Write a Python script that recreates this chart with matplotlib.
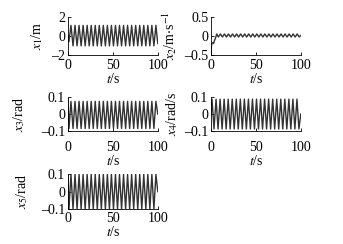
import matplotlib
matplotlib.use('Agg')
import matplotlib.pyplot as plt

# extrema (peak / trough) times, shared by the oscillating states
t_ext = [0, 1.2, 3.4, 5.7, 7.9, 10.2, 12.4, 14.7, 16.9, 19.2, 21.4, 23.7, 25.9, 28.2, 30.4,
         32.7, 34.9, 37.2, 39.4, 41.7, 43.9, 46.2, 48.4, 50.7, 52.9, 55.2, 57.4, 59.7, 61.9,
         64.2, 66.4, 68.7, 70.9, 73.2, 75.4, 77.7, 79.9, 82.2, 84.4, 86.7, 88.9, 91.2, 93.4,
         95.7, 97.9, 100]

x1 = [0, -0.6, 1.1, -1.05, 1.1, -1.05, 1.1, -1.05, 1.1, -1.05, 1.1, -1.05, 1.1, -1.05, 1.1,
      -1.05, 1.1, -1.05, 1.1, -1.05, 1.1, -1.05, 1.1, -1.05, 1.1, -1.05, 1.1, -1.05, 1.1,
      -1.05, 1.1, -1.05, 1.1, -1.05, 1.1, -1.05, 1.1, -1.05, 1.1, -1.05, 1.1, -1.05, 1.1,
      -1.05, 1.1, -0.8]

x3 = [0.09, -0.085, 0.075, -0.085, 0.075, -0.085, 0.075, -0.085, 0.075, -0.085, 0.075, -0.085, 0.075,
      -0.085, 0.075, -0.085, 0.075, -0.085, 0.075, -0.085, 0.075, -0.085, 0.075, -0.085, 0.075, -0.085,
      0.075, -0.085, 0.075, -0.085, 0.075, -0.085, 0.075, -0.085, 0.075, -0.085, 0.075, -0.085, 0.075,
      -0.085, 0.075, -0.085, 0.075, -0.085, 0.075, 0.0]

x4 = [0.0, 0.088, -0.088, 0.088, -0.088, 0.088, -0.088, 0.088, -0.088, 0.088, -0.088, 0.088, -0.088,
      0.088, -0.088, 0.088, -0.088, 0.088, -0.088, 0.088, -0.088, 0.088, -0.088, 0.088, -0.088, 0.088,
      -0.088, 0.088, -0.088, 0.088, -0.088, 0.088, -0.088, 0.088, -0.088, 0.088, -0.088, 0.088, -0.088,
      0.088, -0.088, 0.088, -0.088, 0.088, -0.088, 0.0]

x5 = [0.098, -0.098, 0.098, -0.098, 0.098, -0.098, 0.098, -0.098, 0.098, -0.098, 0.098, -0.098, 0.098,
      -0.098, 0.098, -0.098, 0.098, -0.098, 0.098, -0.098, 0.098, -0.098, 0.098, -0.098, 0.098, -0.098,
      0.098, -0.098, 0.098, -0.098, 0.098, -0.098, 0.098, -0.098, 0.098, -0.098, 0.098, -0.098, 0.098,
      -0.098, 0.098, -0.098, 0.098, -0.098, 0.098, 0.0]

# x2: fast transient then small ripple
t2 = [0, 0.4, 1.0, 2.0, 3.0, 4.0, 5.0, 6.5, 8.2, 10.5, 12.8, 15.0, 17.3, 19.5, 21.8, 24.0,
      26.3, 28.5, 30.8, 33.0, 35.3, 37.5, 39.8, 42.0, 44.3, 46.5, 48.8, 51.0, 53.3, 55.5,
      57.8, 60.0, 62.3, 64.5, 66.8, 69.0, 71.3, 73.5, 75.8, 78.0, 80.3, 82.5, 84.8, 87.0,
      89.3, 91.5, 93.8, 96.0, 98.3, 100]
x2 = [-0.5, -0.3, -0.2, -0.18, -0.2, -0.12, -0.06, 0.05, -0.03, 0.05, -0.03, 0.05, -0.03, 0.05,
      -0.03, 0.05, -0.03, 0.05, -0.03, 0.05, -0.03, 0.05, -0.03, 0.05, -0.03, 0.05, -0.03, 0.05,
      -0.03, 0.05, -0.03, 0.05, -0.03, 0.05, -0.03, 0.05, -0.03, 0.05, -0.03, 0.05, -0.03, 0.05,
      -0.03, 0.05, -0.03, 0.05, -0.03, 0.05, -0.03, 0.01]

plt.rcParams['font.family'] = ['Liberation Serif', 'DejaVu Serif']
plt.rcParams['mathtext.fontset'] = 'stix'
fs = 10
dash = '\u2013'

fig = plt.figure(figsize=(3.43, 2.44), dpi=100)

# rect, t, y, ylim, ticks, ticklabels, ylabel, ylabel x (axes coords), x tick pad
panels = [
    ([0.198, 0.775, 0.262, 0.156], t_ext, x1, (-2, 2), [-2, 0, 2], [dash + '2', '0', '2'],
     r'$x_1$/m', -0.26, 3),
    ([0.615, 0.775, 0.262, 0.156], t2, x2, (-0.5, 0.5), [-0.5, 0, 0.5], [dash + '0.5', '0', '0.5'],
     r'$x_2$/m$\cdot$s$^{-1}$', -0.36, 3),
    ([0.198, 0.463, 0.262, 0.139], t_ext, x3, (-0.1, 0.1), [-0.1, 0, 0.1], [dash + '0.1', '0', '0.1'],
     r'$x_3$/rad', -0.45, 7),
    ([0.615, 0.463, 0.262, 0.139], t_ext, x4, (-0.1, 0.1), [-0.1, 0, 0.1], [dash + '0.1', '0', '0.1'],
     r'$x_4$/rad/s', -0.34, 7),
    ([0.198, 0.142, 0.262, 0.145], t_ext, x5, (-0.1, 0.1), [-0.1, 0, 0.1], [dash + '0.1', '0', '0.1'],
     r'$x_5$/rad', -0.42, 2),
]

for rect, t, y, ylim, yt, ytl, ylab, lx, xpad in panels:
    ax = fig.add_axes(rect)
    ax.plot(t, y, color='#333333', lw=1.0)
    ax.set_xlim(0, 100)
    ax.set_ylim(*ylim)
    ax.set_xticks([0, 50, 100])
    ax.set_yticks(yt)
    ax.set_yticklabels(ytl)
    ax.spines['top'].set_visible(False)
    ax.spines['right'].set_visible(False)
    for s in ('left', 'bottom'):
        ax.spines[s].set_linewidth(0.6)
    ax.tick_params(direction='in', length=2, width=0.6, pad=2, labelsize=fs)
    ax.tick_params(axis='x', pad=xpad)
    ax.set_xlabel(r'$t$/s', fontsize=fs, labelpad=0)
    ax.set_ylabel(ylab, fontsize=fs)
    ax.yaxis.set_label_coords(lx, 0.5)

fig.savefig('out.png', dpi=100)
